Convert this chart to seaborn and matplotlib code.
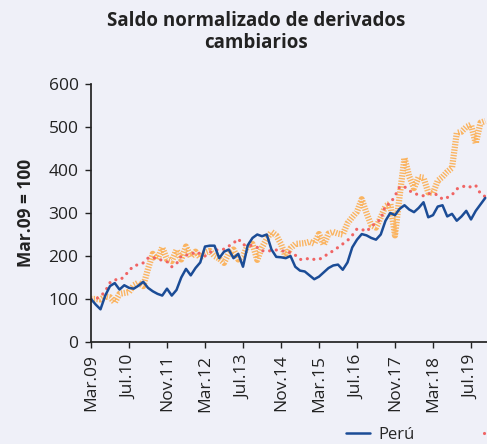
import pandas as pd
import matplotlib
matplotlib.use("Agg")
import matplotlib.pyplot as plt
import seaborn as sns

# datos bimestrales desde Mar.09 (indice en meses)
peru = [100, 87, 76, 108, 130, 137, 122, 132, 126, 124, 131, 140, 126, 118, 112, 108,
        124, 108, 121, 150, 170, 155, 172, 185, 222, 224, 224, 195, 210, 215, 195, 205,
        175, 225, 242, 250, 246, 250, 215, 198, 197, 195, 200, 175, 166, 164, 155, 146,
        152, 162, 172, 178, 180, 168, 185, 220, 238, 251, 248, 242, 238, 250, 282, 300,
        295, 310, 318, 308, 302, 312, 325, 290, 295, 315, 318, 292, 298, 282, 292, 305,
        285, 305, 320, 335]
serie_roja = [100, 100, 106, 118, 138, 145, 144, 152, 166, 177, 180, 184, 195, 197, 193, 190,
              187, 175, 182, 200, 202, 203, 210, 205, 200, 208, 214, 214, 216, 223, 230, 240,
              226, 226, 224, 220, 212, 212, 212, 214, 212, 211, 208, 202, 192, 192, 195, 192,
              192, 198, 206, 212, 220, 228, 236, 248, 263, 262, 257, 268, 278, 285, 318, 322,
              340, 361, 361, 352, 346, 342, 340, 345, 345, 342, 332, 336, 342, 356, 360, 364,
              360, 364, 345, 338]
serie_naranja = [100, 100, 99, 106, 104, 92, 112, 114, 116, 132, 138, 130, 170, 205, 192, 220,
                 192, 188, 214, 192, 222, 198, 210, 196, 208, 212, 200, 194, 184, 206, 215, 192,
                 200, 225, 228, 191, 220, 240, 256, 248, 228, 198, 218, 228, 229, 230, 233, 229,
                 251, 226, 252, 256, 252, 250, 276, 290, 303, 332, 300, 272, 266, 290, 316, 322,
                 248, 342, 428, 385, 358, 384, 382, 348, 346, 375, 384, 396, 405, 486, 489, 500,
                 505, 462, 510, 514]
meses = [2 * i for i in range(len(peru))]

tick_pos = [0, 16, 32, 48, 64, 80, 96, 112, 128, 144, 160]
tick_labels = ["Mar.09", "Jul.10", "Nov.11", "Mar.12", "Jul.13", "Nov.14",
               "Mar.15", "Jul.16", "Nov.17", "Mar.18", "Jul.19"]
nombres = ["Perú", "Chile", "Colombia"]

df = pd.DataFrame({"mes": meses, "peru": peru, "roja": serie_roja, "naranja": serie_naranja})

sns.set_theme(style="ticks")
plt.rcParams["font.family"] = ["Open Sans", "DejaVu Sans"]
bg = "#EFF0F8"
txt = "#222222"

fig = plt.figure(figsize=(4.87, 4.44), dpi=100, facecolor=bg)
ax = fig.add_axes([91 / 487, 102 / 444, 170 * 2.375 / 487, 258 / 444])
ax.set_facecolor(bg)

sns.lineplot(data=df, x="mes", y="naranja", ax=ax, color="#FFA02E", alpha=0.75,
             lw=4.5, linestyle=(0, (0.22, 0.22)), dash_capstyle="butt", label=nombres[2])
sns.lineplot(data=df, x="mes", y="roja", ax=ax, color="#F06464",
             lw=2.3, linestyle=(0, (0.01, 2.1)), dash_capstyle="round", label=nombres[1])
sns.lineplot(data=df, x="mes", y="peru", ax=ax, color="#1B4C96", lw=1.8, label=nombres[0])

ax.set_xlim(0, 170)
ax.set_ylim(0, 600)
ax.set_yticks(range(0, 601, 100))
ax.set_xticks(tick_pos)
ax.set_xticklabels(tick_labels, rotation=90)
ax.tick_params(labelsize=12.5, colors=txt, length=4, width=1, pad=5)
ax.set_xlabel("")
ax.set_ylabel("Mar.09 = 100", fontsize=12.5, fontweight="bold", color=txt, labelpad=10)
sns.despine(ax=ax)
for s in ["left", "bottom"]:
    ax.spines[s].set_color(txt)

fig.text(256 / 487, 1 - 11 / 444, "Saldo normalizado de derivados\ncambiarios",
         ha="center", va="top", fontsize=13.5, fontweight="bold", color=txt,
         linespacing=1.1)

handles, labels = ax.get_legend_handles_labels()
ax.get_legend().remove()
order = [2, 1, 0]
fig.legend([handles[i] for i in order], [labels[i] for i in order],
           loc="center left", bbox_to_anchor=(333 / 487, 1 - 435 / 444), ncol=3,
           frameon=False, fontsize=12, handlelength=1.4, handletextpad=0.5,
           columnspacing=4.2, borderpad=0.3)

fig.savefig("out.png", dpi=100, facecolor=bg)
